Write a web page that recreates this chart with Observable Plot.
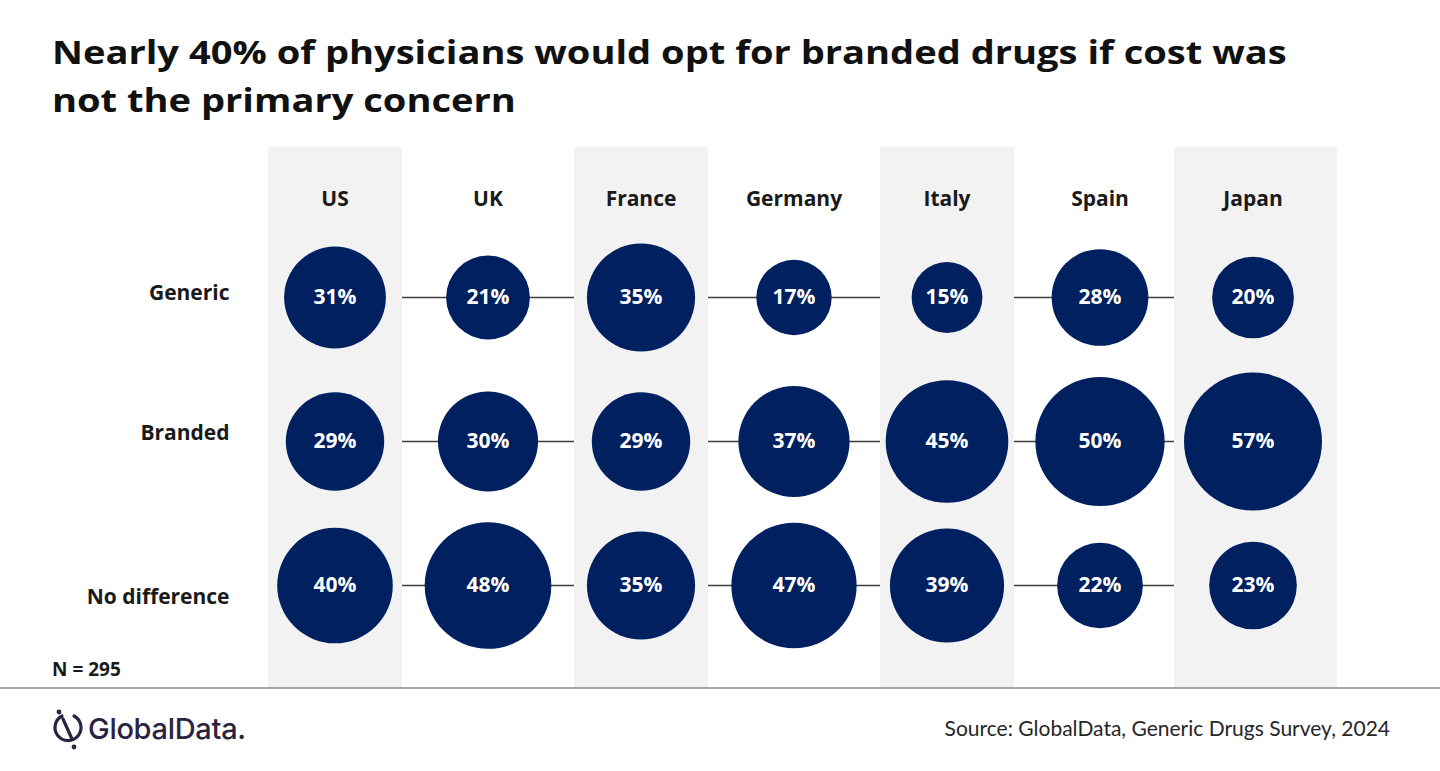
<!DOCTYPE html>
<html>
<head>
<meta charset="utf-8">
<script src="https://cdn.jsdelivr.net/npm/d3@7"></script>
<script src="https://cdn.jsdelivr.net/npm/@observablehq/plot@0.6"></script>
<style>
  html, body { margin: 0; padding: 0; background: #ffffff; width: 1440px; height: 771px; overflow: hidden; }
  body { position: relative; font-family: "Open Sans", sans-serif; color: #1a1a1a; }
  #title { position: absolute; left: 52px; top: 28px; font: 700 32px "Open Sans", sans-serif; line-height: 48px; color: #111; transform: scaleX(1.19); transform-origin: 0 0; white-space: nowrap; }
  #chart { position: absolute; left: 0; top: 140px; }
  #n { position: absolute; left: 52px; top: 656px; font: 700 19px "Open Sans", sans-serif; color: #1a1a1a; }
  #rule { position: absolute; left: 0; top: 687px; width: 1440px; height: 2px; background: #a6a6a6; }
  #source { position: absolute; right: 50px; top: 715px; font: 400 21px Lato, sans-serif; color: #262626; }
  #logo { position: absolute; left: 50px; top: 706px; }
</style>
</head>
<body>
<div id="title">Nearly 40% of physicians would opt for branded drugs if cost was<br>not the primary concern</div>
<div id="chart"></div>
<div id="n">N = 295</div>
<div id="rule"></div>
<svg id="logo" width="230" height="50" viewBox="0 0 230 50">
  <path d="M 12 10 A 13 13 0 1 0 24 10" fill="none" stroke="#2b2341" stroke-width="3.2" stroke-linecap="round"/>
  <line x1="13" y1="13" x2="22" y2="33" stroke="#2b2341" stroke-width="3.2" stroke-linecap="round"/>
  <circle cx="9" cy="6" r="2.4" fill="#2b2341"/>
  <circle cx="24" cy="41" r="2.4" fill="#2b2341"/>
  <text x="38" y="33" font-family="Inter, 'Noto Sans', sans-serif" font-weight="500" font-size="29" fill="#2b2341" letter-spacing="-0.3">GlobalData.</text>
</svg>
<div id="source">Source: GlobalData, Generic Drugs Survey, 2024</div>
<script>
const countries = ["US", "UK", "France", "Germany", "Italy", "Spain", "Japan"];
const rows = ["Generic", "Branded", "No difference"];
const generic = [31, 21, 35, 17, 15, 28, 20];
const branded = [29, 30, 29, 37, 45, 50, 57];
const noDifference = [40, 48, 35, 47, 39, 22, 23];
const shaded = ["US", "France", "Italy", "Japan"];

const series = {"Generic": generic, "Branded": branded, "No difference": noDifference};
const data = rows.flatMap(row => countries.map((country, i) => ({country, row, value: series[row][i]})));

const rowLabelDy = {"Generic": -4, "Branded": -8, "No difference": 12};
const navy = "#002060";
const grey = "#f2f2f2";
const font = "'Open Sans', sans-serif";

const chart = Plot.plot({
  width: 1440,
  height: 550,
  marginLeft: 258,
  marginRight: 111,
  marginTop: 7,
  marginBottom: 3,
  style: {fontFamily: font, overflow: "visible", background: "transparent"},
  x: {type: "band", domain: countries, padding: 0, axis: null},
  y: {type: "point", domain: rows, range: [156, 445], padding: 0, axis: null},
  r: {type: "sqrt", domain: [0, 57], range: [0, 69]},
  marks: [
    Plot.ruleY(rows, {y: d => d, stroke: "#404040", strokeWidth: 1.5, insetLeft: 12}),
    Plot.cell(shaded.filter(c => c !== "Japan"), {x: d => d, fill: grey, insetLeft: 10, insetRight: 9}),
    Plot.cell(shaded.filter(c => c === "Japan"), {x: d => d, fill: grey, insetLeft: -2, insetRight: -8}),
    Plot.dot(data, {x: "country", y: "row", r: "value", fill: navy, stroke: null}),
    Plot.text(data, {x: "country", y: "row", text: d => d.value + "%", fill: "white", fontSize: 21, fontWeight: "bold"}),
    Plot.text(countries, {x: d => d, text: d => d, frameAnchor: "top", lineAnchor: "middle", dy: 52, fontSize: 21, fontWeight: "bold", fill: "#1a1a1a"}),
    ...rows.map(row => Plot.text([row], {y: d => d, text: d => d, frameAnchor: "left", textAnchor: "end", dx: -29, dy: rowLabelDy[row], fontSize: 21, fontWeight: "bold", fill: "#1a1a1a"}))
  ]
});
document.getElementById("chart").appendChild(chart);
</script>
</body>
</html>
